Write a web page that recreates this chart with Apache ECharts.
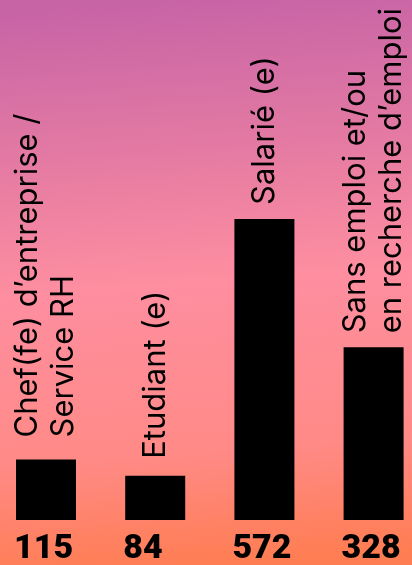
<!DOCTYPE html>
<html>
<head>
<meta charset="utf-8">
<script src="https://cdn.jsdelivr.net/npm/echarts@6/dist/echarts.min.js"></script>
<style>
  html, body { margin: 0; padding: 0; }
  #chart { width: 412px; height: 565px; }
</style>
</head>
<body>
<div id="chart"></div>
<script>
// Profils des répondants
const categories = [
  'Chef(fe) d’entreprise /\nService RH',
  'Etudiant (e)',
  'Salarié (e)',
  'Sans emploi et/ou\nen recherche d’emploi'
];
const counts = [115, 84, 572, 328];
// gap between each bar top and its rotated caption
const captionGaps = [22, 17, 14, 14];

const chart = echarts.init(document.getElementById('chart'), null, { renderer: 'canvas' });

chart.setOption({
  animation: false,
  backgroundColor: {
    type: 'linear', x: 0.45, y: 0, x2: 0.55, y2: 1,
    colorStops: [
      { offset: 0, color: '#c764a6' },
      { offset: 0.5, color: '#fe8ea0' },
      { offset: 0.8, color: '#ff8a86' },
      { offset: 1, color: '#ff7d52' }
    ]
  },
  grid: { left: -8.6, width: 436.8, top: 0, bottom: 45, outerBoundsMode: 'none' },
  xAxis: {
    type: 'category',
    data: categories,
    axisLine: { show: false },
    axisTick: { show: false },
    axisLabel: { show: false },
    splitLine: { show: false }
  },
  yAxis: {
    type: 'value',
    min: 0,
    max: 988,
    show: false,
    splitLine: { show: false }
  },
  series: [
    {
      type: 'bar',
      barWidth: 60,
      itemStyle: { color: '#000000' },
      data: counts.map((v, i) => ({
        value: v,
        label: { distance: captionGaps[i] }
      })),
      label: {
        show: true,
        position: 'top',
        rotate: 90,
        align: 'left',
        verticalAlign: 'middle',
        formatter: p => categories[p.dataIndex],
        fontFamily: 'Inter',
        fontSize: 31,
        lineHeight: 36,
        color: '#000000'
      }
    },
    {
      // transparent overlay carrying the counts below each bar
      type: 'bar',
      barWidth: 60,
      barGap: '-100%',
      silent: true,
      itemStyle: { color: 'rgba(0,0,0,0)' },
      data: counts,
      label: {
        show: true,
        position: [-2, '100%'],
        offset: [0, 29],
        align: 'left',
        verticalAlign: 'middle',
        formatter: p => String(p.value),
        fontFamily: 'Roboto',
        fontWeight: 900,
        fontSize: 34,
        color: '#000000'
      }
    }
  ]
});
</script>
</body>
</html>
